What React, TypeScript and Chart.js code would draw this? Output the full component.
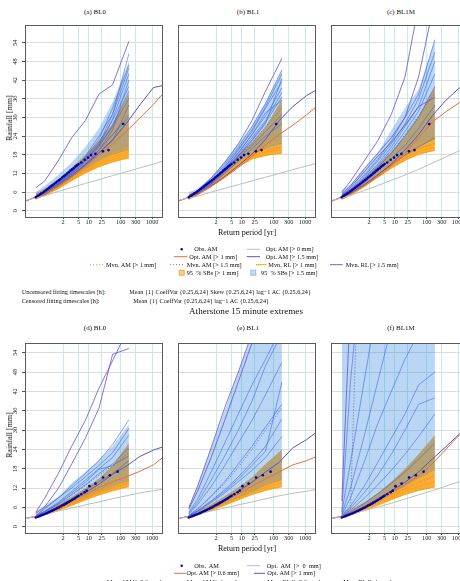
import React, { useEffect, useRef } from "react";
import { Chart, registerables } from "chart.js";

Chart.register(...registerables);

const FONT = "'Liberation Serif', 'Times New Roman', serif";

// ---------- axes ----------
const tickPeriods = [2, 5, 10, 25, 100, 300, 1000];
const rainTicks = [0, 6, 12, 18, 24, 30, 36, 42, 48, 54];
// x values are Gumbel reduced variates  -ln(-ln(1 - 1/T))
const simX = [-1.64, -1, 0, 1, 2, 3, 4, 5.2];
const optX = [-2.36, -1, 0, 1, 2, 3, 4, 5, 6, 7, 7.63];
const xRange = [-2.36, 7.63];
const row1Range = [-2.0, 59.4];
const row2Range = [-1.93, 56.7];

// ---------- observed annual maxima ----------
const obsRow1X = [-1.64, -1.5, -1.38, -1.26, -1.14, -1.02, -0.9, -0.78, -0.66, -0.54, -0.42, -0.3, -0.18, -0.06, 0.06, 0.18, 0.3, 0.42, 0.54, 0.66, 0.78, 0.9, 1.02, 1.14, 1.26, 1.38, 1.5, 1.7, 1.95, 2.2, 2.42, 2.74, 3.29, 3.7, 4.78];
const obsRow1Y = [4.4, 4.8, 5.1, 5.5, 5.8, 6.2, 6.6, 7.0, 7.4, 7.8, 8.2, 8.6, 9.0, 9.4, 9.8, 10.2, 10.7, 11.1, 11.5, 12.0, 12.4, 12.9, 13.3, 13.7, 14.2, 14.6, 15.0, 15.5, 16.4, 17.1, 17.9, 18.3, 19.1, 19.5, 27.9];
const obsRow2X = [-1.64, -1.5, -1.38, -1.26, -1.14, -1.02, -0.9, -0.78, -0.66, -0.54, -0.42, -0.3, -0.18, -0.06, 0.06, 0.18, 0.3, 0.42, 0.54, 0.66, 0.78, 0.9, 1.02, 1.14, 1.26, 1.38, 1.5, 1.7, 1.95, 2.1, 2.3, 2.75, 3.3, 3.8, 4.37];
const obsRow2Y = [2.9, 3.1, 3.3, 3.5, 3.7, 3.9, 4.1, 4.3, 4.6, 4.8, 5.0, 5.3, 5.5, 5.8, 6.0, 6.3, 6.6, 6.8, 7.1, 7.4, 7.7, 8.0, 8.3, 8.6, 8.9, 9.3, 9.6, 10.1, 10.7, 11.2, 12.6, 13.4, 15.3, 16.0, 17.1];

// ---------- panel (a) BL0 ----------
const aOpt0 = [3.4, 4.8, 6.2, 7.5, 8.8, 10.0, 11.3, 12.5, 13.8, 15.0, 15.9];
const aOpt1 = [3.2, 5.4, 8.0, 11.0, 14.3, 17.8, 21.5, 25.5, 29.8, 34.2, 37.3];
const aOpt2 = [3.2, 5.5, 8.2, 11.3, 14.8, 18.6, 22.8, 28.0, 34.0, 39.6, 40.2];
const aSB1lo = [3.8, 4.8, 7.0, 9.6, 12.0, 14.0, 15.5, 16.8];
const aSB1hi = [5.6, 7.2, 10.2, 13.8, 18.0, 22.5, 28.0, 38.0];
const aSB2lo = [4.0, 5.2, 7.8, 10.6, 13.5, 16.0, 18.0, 19.5];
const aSB2hi = [6.0, 8.0, 11.5, 15.5, 20.5, 26.5, 35.0, 48.0];
const aMvn1 = [4.0, 5.1, 7.5, 10.4, 13.5, 16.3, 18.8, 21.5];
const aMvn2 = [4.2, 5.5, 8.3, 11.6, 15.4, 19.5, 24.5, 31.0];
const aRL1 = [
  [3.8, 4.9, 7.1, 9.8, 12.3, 14.3, 15.8, 17.2],
  [4.0, 5.1, 7.5, 10.3, 13.1, 15.5, 17.4, 19.0],
  [3.9, 5.0, 7.3, 10.0, 12.8, 15.0, 16.5, 18.2],
  [3.9, 5.0, 7.4, 10.2, 13.3, 16.2, 18.5, 20.5],
];
const aRL2 = [
  [4.2, 5.6, 8.6, 12.2, 16.5, 21.5, 31.0, 50.5],
  [4.5, 5.9, 9.0, 12.6, 17.5, 24.0, 31.0, 46.0],
  [4.1, 5.3, 8.1, 11.3, 15.0, 19.5, 26.0, 42.0],
  [4.3, 5.5, 8.3, 11.7, 15.8, 20.5, 27.5, 38.5],
  [4.0, 5.2, 7.9, 10.9, 14.4, 18.5, 22.5, 34.0],
  [4.2, 5.4, 8.4, 11.9, 16.0, 21.0, 29.5, 44.0],
  [4.0, 5.3, 8.0, 11.0, 14.8, 19.5, 24.5, 30.0],
  [4.3, 5.7, 8.8, 12.5, 17.0, 23.0, 33.0, 47.0],
  [4.4, 5.8, 8.9, 12.4, 16.8, 22.0, 29.0, 40.0],
  [4.2, 5.6, 8.5, 12.0, 16.2, 21.0, 27.0, 36.0],
];
const aRL2out = [[7.4, 9.5, 16.0, 23.5, 29.0, 37.5, 40.5, 54.5]];

// ---------- panel (b) BL1 ----------
const bOpt0 = [3.4, 4.7, 6.0, 7.2, 8.4, 9.6, 10.8, 12.0, 13.2, 14.4, 15.1];
const bOpt1 = [3.2, 5.3, 7.8, 10.7, 13.9, 17.5, 21.2, 24.5, 27.5, 30.8, 33.1];
const bOpt2 = [3.2, 5.4, 8.0, 11.0, 14.5, 18.2, 23.0, 29.0, 33.5, 37.0, 38.6];
const bSB1lo = [3.6, 5.0, 7.6, 10.8, 14.0, 16.5, 17.6, 18.3];
const bSB1hi = [5.2, 6.6, 9.8, 13.6, 18.0, 22.0, 27.0, 35.8];
const bSB2lo = [3.9, 5.4, 8.3, 11.6, 15.0, 18.0, 20.0, 21.5];
const bSB2hi = [6.0, 7.1, 10.8, 16.0, 21.4, 27.5, 35.0, 45.3];
const bMvn1 = [3.8, 5.2, 8.0, 11.3, 14.7, 17.5, 19.2, 20.5];
const bMvn2 = [4.0, 5.6, 8.7, 12.6, 17.0, 21.8, 27.0, 33.0];
const bRL1 = [
  [3.7, 5.1, 7.8, 11.0, 14.3, 16.8, 17.9, 18.6],
  [3.9, 5.4, 8.3, 11.8, 15.3, 18.3, 19.8, 20.5],
  [3.8, 5.2, 8.0, 11.4, 14.8, 17.5, 18.8, 19.5],
  [3.9, 5.3, 8.2, 11.7, 15.4, 18.8, 21.0, 22.5],
];
const bRL2 = [
  [4.3, 6.4, 10.0, 14.8, 20.5, 27.0, 34.5, 45.3],
  [4.1, 6.0, 9.5, 14.0, 19.5, 25.5, 33.0, 41.5],
  [4.0, 5.8, 9.0, 13.2, 18.0, 23.5, 29.0, 38.0],
  [4.2, 5.9, 9.2, 13.5, 18.5, 24.5, 31.5, 35.5],
  [4.0, 5.6, 8.6, 12.5, 16.8, 21.0, 25.5, 31.0],
  [4.1, 5.7, 8.8, 12.9, 17.5, 22.5, 28.0, 42.5],
  [3.9, 5.4, 8.4, 12.0, 16.0, 20.0, 24.0, 28.0],
  [4.2, 6.1, 9.6, 14.2, 19.8, 26.0, 33.5, 44.0],
  [4.1, 5.9, 9.3, 13.6, 18.8, 24.5, 30.5, 39.5],
  [4.0, 5.7, 8.9, 13.0, 17.6, 22.8, 28.5, 36.5],
];
const bRL2out = [[4.5, 6.5, 10.5, 15.5, 21.5, 29.0, 38.5, 49.0]];

// ---------- panel (c) BL1M ----------
const cOpt0 = [3.3, 4.9, 6.5, 8.1, 9.8, 11.5, 13.3, 15.3, 17.3, 19.3, 20.8];
const cOpt1 = [3.1, 5.4, 8.0, 11.0, 14.5, 18.5, 23.5, 28.5, 31.8, 34.8, 38.0];
const cOpt2 = [3.2, 5.6, 8.3, 11.5, 15.0, 19.5, 24.5, 30.5, 35.5, 39.5, 42.0];
const cSB1lo = [3.6, 4.9, 7.6, 10.6, 13.5, 16.0, 18.0, 19.3];
const cSB1hi = [5.4, 7.0, 10.5, 14.5, 19.0, 24.0, 30.5, 40.0];
const cSB2lo = [3.9, 5.4, 8.2, 11.4, 14.7, 17.8, 20.6, 23.0];
const cSB2hi = [6.5, 8.5, 13.5, 18.5, 26.0, 33.0, 39.0, 55.0];
const cMvn1 = [3.8, 5.1, 8.0, 11.2, 14.4, 17.3, 19.8, 21.5];
const cMvn2 = [4.3, 6.0, 9.6, 13.8, 18.6, 24.5, 30.5, 38.0];
const cRL1 = [
  [3.7, 5.0, 7.8, 10.8, 13.8, 16.3, 18.3, 19.5],
  [3.9, 5.3, 8.3, 11.6, 14.9, 17.8, 20.0, 21.8],
  [3.8, 5.1, 8.0, 11.1, 14.2, 16.9, 19.0, 20.5],
  [3.9, 5.2, 8.2, 11.5, 15.0, 18.5, 21.5, 23.5],
];
const cRL2 = [
  [4.8, 7.0, 11.5, 16.5, 22.5, 30.0, 37.5, 55.0],
  [4.5, 6.5, 10.5, 15.0, 20.5, 27.0, 33.5, 48.0],
  [4.2, 6.0, 9.8, 14.0, 18.5, 24.0, 30.0, 40.0],
  [4.0, 5.6, 9.0, 12.8, 16.8, 21.0, 26.5, 34.0],
  [4.1, 5.5, 8.4, 11.5, 14.8, 17.8, 20.5, 23.5],
  [4.4, 6.3, 10.2, 14.5, 19.5, 25.5, 32.0, 44.0],
  [4.6, 6.8, 11.0, 16.0, 21.5, 28.0, 36.0, 51.0],
];
const cRL2out = [
  [6.0, 9.5, 16.0, 22.5, 31.0, 43.0, 66.0, 80.0],
  [5.5, 8.0, 13.5, 18.5, 23.5, 30.0, 43.0, 68.0],
  [5.0, 7.5, 12.5, 17.5, 22.0, 27.5, 33.5, 36.5],
];

// ---------- panel (d) BL0 ----------
const dOpt0 = [2.6, 3.7, 4.9, 5.8, 6.8, 7.7, 8.7, 9.6, 10.5, 11.2, 11.6];
const dOpt1 = [2.6, 3.8, 6.0, 8.2, 10.0, 12.2, 14.0, 15.5, 17.2, 19.2, 21.3];
const dOpt2 = [2.6, 3.9, 6.2, 8.5, 10.6, 13.2, 16.3, 18.8, 21.8, 23.8, 24.7];
const dSB1lo = [2.8, 3.6, 4.9, 6.5, 8.2, 9.7, 11.0, 12.3];
const dSB1hi = [3.8, 5.0, 7.0, 9.3, 12.0, 15.0, 19.0, 26.0];
const dSB2lo = [3.0, 3.9, 5.4, 7.2, 9.0, 10.8, 12.5, 14.0];
const dSB2hi = [4.8, 6.5, 9.2, 13.5, 17.0, 20.7, 25.0, 31.7];
const dMvn1 = [2.9, 3.8, 5.4, 7.1, 8.9, 10.7, 12.2, 13.6];
const dMvn2 = [3.1, 4.5, 7.0, 9.8, 12.8, 16.0, 19.0, 23.0];
const dRL1 = [
  [2.8, 3.7, 5.1, 6.7, 8.4, 10.0, 11.3, 12.6],
  [3.0, 4.0, 5.6, 7.4, 9.3, 11.2, 12.8, 14.3],
  [2.9, 3.8, 5.3, 7.0, 8.8, 10.5, 12.0, 13.4],
  [3.0, 4.1, 5.8, 7.8, 9.9, 12.0, 14.0, 16.0],
];
const dRL2 = [
  [3.3, 5.5, 8.8, 12.8, 16.5, 20.5, 25.5, 33.2],
  [3.2, 4.8, 7.6, 11.0, 14.5, 18.0, 21.5, 28.5],
  [3.1, 4.5, 7.0, 10.0, 13.0, 16.5, 19.5, 24.5],
  [3.0, 4.2, 6.3, 8.7, 11.3, 14.0, 16.5, 20.5],
  [3.2, 4.7, 7.3, 10.5, 13.8, 17.8, 19.0, 22.0],
  [3.4, 5.8, 9.0, 12.0, 15.5, 19.0, 23.0, 30.5],
];
const dRL2out = [
  [4.5, 8.8, 16.4, 25.0, 33.0, 43.0, 51.5, 62.0],
  [4.2, 6.1, 11.8, 19.5, 27.5, 36.8, 53.5, 55.3],
];

// ---------- panel (e) BL1 ----------
const eOpt0 = [2.6, 3.7, 4.9, 5.8, 6.8, 7.7, 8.7, 9.6, 10.4, 11.0, 11.5];
const eOpt1 = [2.6, 3.8, 6.0, 8.2, 10.2, 12.6, 14.8, 17.0, 19.2, 20.5, 21.6];
const eOpt2 = [2.6, 3.9, 6.2, 8.6, 11.0, 13.8, 17.0, 20.0, 24.5, 27.0, 29.0];
const eSB1lo = [2.8, 3.6, 5.0, 6.6, 8.3, 9.9, 11.2, 12.3];
const eSB1hi = [3.6, 4.9, 7.0, 9.5, 12.3, 15.4, 19.5, 24.0];
const eSB2lo = [3.0, 3.9, 5.4, 7.2, 9.0, 10.8, 12.8, 14.5];
const eSB2hi = [6.0, 12.6, 24.4, 36.2, 47.8, 59.5, 71.0, 85.0];
const eMvn1 = [2.9, 3.8, 5.5, 7.3, 9.2, 11.2, 13.0, 14.8];
const eMvn2 = [3.5, 5.5, 9.2, 13.5, 18.5, 24.0, 30.0, 37.0];
const eRL1 = [
  [2.8, 3.7, 5.1, 6.7, 8.4, 10.0, 11.3, 12.5],
  [3.0, 4.0, 5.7, 7.6, 9.6, 11.6, 13.3, 15.0],
  [2.9, 3.8, 5.4, 7.1, 8.9, 10.7, 12.2, 13.6],
  [3.0, 4.1, 5.9, 8.0, 10.2, 12.5, 14.8, 17.5],
];
const eRL2 = [
  [4.5, 8.5, 17.0, 26.0, 35.0, 44.0, 52.0, 62.0],
  [4.0, 6.8, 12.5, 19.0, 26.0, 33.0, 41.0, 51.0],
  [3.6, 5.5, 9.5, 14.0, 19.5, 25.0, 31.0, 38.0],
  [3.3, 4.7, 7.5, 10.5, 14.0, 17.5, 21.5, 28.0],
  [3.5, 5.0, 8.0, 11.5, 15.5, 20.0, 25.0, 33.5],
  [4.2, 7.5, 14.5, 22.0, 30.0, 39.0, 50.0, 60.0],
  [3.4, 4.9, 7.8, 11.0, 14.8, 19.0, 23.5, 45.0],
];
const eRL2out = [
  [6.0, 12.5, 24.5, 37.0, 48.0, 60.0, 70.0, 80.0],
  [5.5, 11.0, 21.5, 33.0, 45.0, 57.0, 68.0, 78.0],
];

// ---------- panel (f) BL1M ----------
const fOpt0 = [2.6, 3.8, 5.0, 6.1, 7.3, 8.6, 9.9, 11.2, 12.6, 14.0, 14.8];
const fOpt1 = [2.6, 3.9, 6.1, 8.5, 10.8, 13.0, 15.8, 19.5, 24.0, 28.5, 31.0];
const fOpt2 = [2.6, 3.9, 6.2, 8.7, 11.2, 13.8, 17.0, 21.0, 24.8, 28.8, 31.5];
const fSB1lo = [2.8, 3.6, 5.0, 6.6, 8.3, 9.9, 11.2, 12.3];
const fSB1hi = [3.8, 5.2, 7.5, 10.5, 14.0, 18.0, 22.5, 28.5];
const fSB2lo = [3.0, 4.0, 5.8, 7.8, 10.0, 12.5, 15.0, 17.5];
const fSB2hi = [62.0, 110.0, 140.0, 160.0, 180.0, 200.0, 220.0, 240.0];
const fMvn1 = [2.9, 3.9, 5.6, 7.5, 9.5, 11.6, 13.6, 15.6];
const fMvn2 = [4.5, 5.5, 140.0, 160.0, 180.0, 200.0, 220.0, 240.0];
const fRL1 = [
  [2.8, 3.7, 5.1, 6.7, 8.4, 10.0, 11.3, 12.4],
  [3.0, 4.0, 5.8, 7.8, 9.9, 12.0, 14.0, 16.0],
  [2.9, 3.8, 5.4, 7.2, 9.0, 10.9, 12.5, 14.0],
  [3.0, 4.1, 6.0, 8.2, 10.5, 13.0, 15.5, 18.5],
];
const fRL2 = [
  [5.0, 45.0, 90.0, 120.0, 150.0, 170.0, 190.0, 210.0],
  [4.5, 20.0, 45.0, 70.0, 90.0, 110.0, 130.0, 150.0],
  [4.0, 12.0, 28.0, 45.0, 62.0, 75.0, 85.0, 95.0],
  [3.6, 9.0, 20.0, 32.0, 42.0, 52.0, 60.0, 68.0],
  [3.4, 6.5, 12.5, 20.0, 27.5, 35.0, 44.0, 48.0],
  [3.2, 5.2, 8.8, 13.0, 17.5, 22.5, 28.0, 35.0],
  [3.1, 4.6, 7.2, 10.2, 13.5, 17.0, 21.0, 26.0],
  [3.3, 5.8, 10.5, 16.0, 22.5, 30.0, 38.0, 40.0],
];
const fRL2out = [[8.0, 70.0, 120.0, 150.0, 170.0, 190.0, 200.0, 210.0]];

// ---------- colours ----------
const C_OPT0 = "#bdbdbd";
const C_OPT1 = "#ef6a3c";
const C_OPT2 = "#5f52b8";
const C_RL1 = "rgba(255,160,0,0.9)";
const C_RL2 = "rgba(65,100,225,0.65)";
const C_OUT = "rgba(100,85,205,0.9)";
const C_MVN1 = "rgba(245,130,60,0.95)";
const C_MVN2 = "rgba(110,90,200,0.95)";
const C_SB1 = "rgba(248,160,25,0.85)";
const C_SB2 = "rgba(55,141,226,0.35)";
const C_OBS = "#0000a8";

type PanelData = {
  opt0: number[]; opt1: number[]; opt2: number[];
  sb1lo: number[]; sb1hi: number[]; sb2lo: number[]; sb2hi: number[];
  mvn1: number[]; mvn2: number[];
  rl1: number[][]; rl2: number[][]; rl2out: number[][];
  obsX: number[]; obsY: number[];
};

const xy = (xs: number[], ys: number[]) => xs.map((x, i) => ({ x, y: ys[i] }));
const gumbel = (T: number) => -Math.log(-Math.log(1 - 1 / T));

const lineDs = (data: any[], color: string, width: number, order: number, extra: any = {}) => ({
  data, borderColor: color, borderWidth: width, pointRadius: 0, fill: false, tension: 0, clip: 0, order, ...extra,
});

function buildDatasets(p: PanelData) {
  const ds: any[] = [];
  const clear = "rgba(0,0,0,0)";
  ds.push(lineDs(xy(simX, p.sb1lo), clear, 1, 100));
  ds.push(lineDs(xy(simX, p.sb1hi), clear, 1, 100, { fill: "-1", backgroundColor: C_SB1 }));
  ds.push(lineDs(xy(simX, p.sb2lo), clear, 1, 90));
  ds.push(lineDs(xy(simX, p.sb2hi), clear, 1, 90, { fill: "-1", backgroundColor: C_SB2 }));
  p.rl1.forEach((v) => ds.push(lineDs(xy(simX, v), C_RL1, 0.9, 60)));
  p.rl2.forEach((v) => ds.push(lineDs(xy(simX, v), C_RL2, 0.9, 55)));
  p.rl2out.forEach((v) => ds.push(lineDs(xy(simX, v), C_OUT, 0.9, 50)));
  ds.push(lineDs(xy(simX, p.mvn1), C_MVN1, 1, 45, { borderDash: [1, 2] }));
  ds.push(lineDs(xy(simX, p.mvn2), C_MVN2, 1, 45, { borderDash: [1, 2] }));
  ds.push(lineDs(xy(optX, p.opt0), C_OPT0, 1, 20));
  ds.push(lineDs(xy(optX, p.opt1), C_OPT1, 1, 20));
  ds.push(lineDs(xy(optX, p.opt2), C_OPT2, 1, 20));
  ds.push({
    data: xy(p.obsX, p.obsY), showLine: false, pointRadius: 1.3, pointBackgroundColor: C_OBS,
    pointBorderWidth: 0, borderColor: C_OBS, order: 1, clip: 0,
  });
  return ds;
}

const boxPlugin = {
  id: "panelBox",
  afterDraw(chart: any) {
    const { ctx, chartArea: a } = chart;
    ctx.save();
    ctx.strokeStyle = "#5a5a5a";
    ctx.lineWidth = 1;
    ctx.strokeRect(a.left - 0.5, a.top - 0.5, a.right - a.left + 1, a.bottom - a.top + 1);
    ctx.restore();
  },
};

const PLOT_W = 138;
const Y_AXIS_W = 26;
const X_AXIS_H = 14;

function Panel({ plotLeft, plotTop, plotH, yRange, showY, data }: {
  plotLeft: number; plotTop: number; plotH: number; yRange: number[]; showY: boolean; data: PanelData;
}) {
  const ref = useRef<HTMLCanvasElement>(null);
  const w = Y_AXIS_W + PLOT_W + 2;
  const h = 2 + plotH + X_AXIS_H;
  useEffect(() => {
    const tickFont = { family: FONT, size: 6.3 };
    const chart = new Chart(ref.current as HTMLCanvasElement, {
      type: "line",
      data: { datasets: buildDatasets(data) as any },
      options: {
        animation: false,
        responsive: false,
        devicePixelRatio: 1,
        events: [],
        layout: { padding: { left: 0, right: 2, top: 2, bottom: 0 } },
        plugins: { legend: { display: false }, tooltip: { enabled: false } },
        scales: {
          x: {
            type: "linear",
            min: xRange[0],
            max: xRange[1],
            afterBuildTicks: (s: any) => { s.ticks = tickPeriods.map((T) => ({ value: gumbel(T) })); },
            afterFit: (s: any) => { s.height = X_AXIS_H; s.paddingLeft = 0; s.paddingRight = 0; },
            ticks: {
              callback: (_v: any, i: number) => String(tickPeriods[i]),
              font: tickFont, color: "#222", padding: 0, maxRotation: 0, minRotation: 0, autoSkip: false,
            },
            grid: { color: "#c4ecea", lineWidth: 1, drawTicks: true, tickLength: 2, tickColor: "#555" },
            border: { display: false },
          },
          y: {
            type: "linear",
            min: yRange[0],
            max: yRange[1],
            afterBuildTicks: (s: any) => { s.ticks = rainTicks.map((v) => ({ value: v })); },
            afterFit: (s: any) => { s.width = Y_AXIS_W; s.paddingTop = 0; s.paddingBottom = 0; },
            ticks: {
              display: showY, minRotation: 90, maxRotation: 90, crossAlign: "center", padding: 4,
              font: tickFont, color: "#222",
            },
            grid: { color: "#dcdcdc", lineWidth: 1, drawTicks: showY, tickLength: 4, tickColor: "#555" },
            border: { display: false },
          },
        },
      } as any,
      plugins: [boxPlugin],
    });
    return () => chart.destroy();
  }, []);
  return (
    <canvas
      ref={ref}
      width={w}
      height={h}
      style={{ position: "absolute", left: plotLeft - Y_AXIS_W, top: plotTop - 2, width: w, height: h }}
    />
  );
}

function Txt({ x, y, size = 6.3, center = false, rotate = 0, children }: any) {
  return (
    <div
      style={{
        position: "absolute", left: x, top: y, fontFamily: FONT, fontSize: size, lineHeight: 1,
        whiteSpace: "pre", color: "#111",
        transform: `translate(${center ? "-50%" : "0"}, -50%)${rotate ? ` rotate(${rotate}deg)` : ""}`,
      }}
    >
      {children}
    </div>
  );
}

const panelA: PanelData = { opt0: aOpt0, opt1: aOpt1, opt2: aOpt2, sb1lo: aSB1lo, sb1hi: aSB1hi, sb2lo: aSB2lo, sb2hi: aSB2hi, mvn1: aMvn1, mvn2: aMvn2, rl1: aRL1, rl2: aRL2, rl2out: aRL2out, obsX: obsRow1X, obsY: obsRow1Y };
const panelB: PanelData = { opt0: bOpt0, opt1: bOpt1, opt2: bOpt2, sb1lo: bSB1lo, sb1hi: bSB1hi, sb2lo: bSB2lo, sb2hi: bSB2hi, mvn1: bMvn1, mvn2: bMvn2, rl1: bRL1, rl2: bRL2, rl2out: bRL2out, obsX: obsRow1X, obsY: obsRow1Y };
const panelC: PanelData = { opt0: cOpt0, opt1: cOpt1, opt2: cOpt2, sb1lo: cSB1lo, sb1hi: cSB1hi, sb2lo: cSB2lo, sb2hi: cSB2hi, mvn1: cMvn1, mvn2: cMvn2, rl1: cRL1, rl2: cRL2, rl2out: cRL2out, obsX: obsRow1X, obsY: obsRow1Y };
const panelD: PanelData = { opt0: dOpt0, opt1: dOpt1, opt2: dOpt2, sb1lo: dSB1lo, sb1hi: dSB1hi, sb2lo: dSB2lo, sb2hi: dSB2hi, mvn1: dMvn1, mvn2: dMvn2, rl1: dRL1, rl2: dRL2, rl2out: dRL2out, obsX: obsRow2X, obsY: obsRow2Y };
const panelE: PanelData = { opt0: eOpt0, opt1: eOpt1, opt2: eOpt2, sb1lo: eSB1lo, sb1hi: eSB1hi, sb2lo: eSB2lo, sb2hi: eSB2hi, mvn1: eMvn1, mvn2: eMvn2, rl1: eRL1, rl2: eRL2, rl2out: eRL2out, obsX: obsRow2X, obsY: obsRow2Y };
const panelF: PanelData = { opt0: fOpt0, opt1: fOpt1, opt2: fOpt2, sb1lo: fSB1lo, sb1hi: fSB1hi, sb2lo: fSB2lo, sb2hi: fSB2hi, mvn1: fMvn1, mvn2: fMvn2, rl1: fRL1, rl2: fRL2, rl2out: fRL2out, obsX: obsRow2X, obsY: obsRow2Y };

const panelLefts = [26, 179, 332];
const row1Titles = ["(a) BL0", "(b) BL1", "(c) BL1M"];
const row2Titles = ["(d) BL0", "(e) BL1", "(f) BL1M"];

function LegendSymbols() {
  const L = (x1: number, x2: number, y: number, c: string, dash?: string) => (
    <line x1={x1} x2={x2} y1={y} y2={y} stroke={c} strokeWidth={1} strokeDasharray={dash} />
  );
  return (
    <svg width={460} height={581} style={{ position: "absolute", left: 0, top: 0 }}>
      <circle cx={181.7} cy={249.3} r={1.2} fill={C_OBS} />
      {L(246.7, 260, 249.3, C_OPT0)}
      {L(174, 187.3, 256.7, C_OPT1)}
      {L(246.7, 260, 256.7, C_OPT2)}
      {L(90, 103.3, 264.7, C_MVN1, "1 2")}
      {L(170, 183.3, 264.7, C_MVN2, "1 2")}
      {L(256, 266.7, 264.7, "#ffa500")}
      {L(330, 342.7, 264.7, "#5a6ad8")}
      <rect x={179.2} y={270.2} width={5} height={5} fill="#fbc98a" stroke="#f0a030" strokeWidth={0.8} />
      <rect x={250.8} y={270.2} width={5} height={5} fill="#bcdcf8" stroke="#8cb4e0" strokeWidth={0.8} />

      <circle cx={181.7} cy={565.7} r={1.2} fill={C_OBS} />
      {L(246.7, 260, 565.7, C_OPT0)}
      {L(174, 186, 573.3, C_OPT1)}
      {L(254, 265, 573.3, C_OPT2)}
      {L(90, 103.3, 581.5, C_MVN1, "1 2")}
      {L(170, 183.3, 581.5, C_MVN2, "1 2")}
      {L(255, 265, 581.5, "#ffa500")}
      {L(330, 341, 581.5, "#5a6ad8")}
    </svg>
  );
}

export default function App() {
  return (
    <div style={{ position: "absolute", left: 0, top: 0, width: 460, height: 581, overflow: "hidden", background: "#fff" }}>
      {row1Titles.map((t, i) => (
        <Txt key={t} x={panelLefts[i] + PLOT_W / 2} y={11.7} size={7} center>{t}</Txt>
      ))}
      <Panel plotLeft={26} plotTop={24} plotH={193} yRange={row1Range} showY data={panelA} />
      <Panel plotLeft={179} plotTop={24} plotH={193} yRange={row1Range} showY={false} data={panelB} />
      <Panel plotLeft={332} plotTop={24} plotH={193} yRange={row1Range} showY={false} data={panelC} />
      <Txt x={10} y={117.5} size={8} center rotate={-90}>Rainfall [mm]</Txt>
      <Txt x={247} y={232.5} size={8} center>Return period [yr]</Txt>

      <Txt x={194.3} y={249.3}>Obs. AM</Txt>
      <Txt x={265.7} y={249.3}>Opt. AM [&gt; 0 mm]</Txt>
      <Txt x={189.3} y={256.7}>Opt. AM [&gt; 1 mm]</Txt>
      <Txt x={265.7} y={256.7}>Opt. AM [&gt; 1.5 mm]</Txt>
      <Txt x={106} y={264.7}>Mvn. AM [&gt; 1 mm]</Txt>
      <Txt x={186.7} y={264.7}>Mvn. AM [&gt; 1.5 mm]</Txt>
      <Txt x={268.3} y={264.7}>Mvn. RL [&gt; 1 mm]</Txt>
      <Txt x={345.7} y={264.7}>Mvn. RL [&gt; 1.5 mm]</Txt>
      <Txt x={186.7} y={272.7}>{"95  % SBs [> 1 mm]"}</Txt>
      <Txt x={261} y={272.7}>{"95  % SBs [> 1.5 mm]"}</Txt>

      <Txt x={21.7} y={292} size={6.2}>Uncensored fitting timescales [h]:</Txt>
      <Txt x={129.3} y={292} size={6.2}>{"Mean {1} CoeffVar {0.25,6,24} Skew {0.25,6,24} lag\u22121 AC {0.25,6,24}"}</Txt>
      <Txt x={21.7} y={301} size={6.2}>Censored fitting timescales [h]:</Txt>
      <Txt x={133.3} y={301} size={6.2}>{"Mean {1} CoeffVar {0.25,6,24} lag\u22121 AC {0.25,6,24}"}</Txt>
      <Txt x={246} y={312} size={9.1} center>Atherstone 15 minute extremes</Txt>

      {row2Titles.map((t, i) => (
        <Txt key={t} x={panelLefts[i] + PLOT_W / 2} y={328} size={7} center>{t}</Txt>
      ))}
      <Panel plotLeft={26} plotTop={342} plotH={191} yRange={row2Range} showY data={panelD} />
      <Panel plotLeft={179} plotTop={342} plotH={191} yRange={row2Range} showY={false} data={panelE} />
      <Panel plotLeft={332} plotTop={342} plotH={191} yRange={row2Range} showY={false} data={panelF} />
      <Txt x={10} y={434.5} size={8} center rotate={-90}>Rainfall [mm]</Txt>
      <Txt x={247} y={548.7} size={8} center>Return period [yr]</Txt>

      <Txt x={194.3} y={565.7}>{"Obs.  AM"}</Txt>
      <Txt x={266.7} y={565.7}>{"Opt.  AM  [>  0  mm]"}</Txt>
      <Txt x={186.5} y={573.3}>Opt. AM [&gt; 0.6 mm]</Txt>
      <Txt x={267.3} y={573.3}>Opt. AM [&gt; 1 mm]</Txt>
      <Txt x={106.7} y={581.5}>Mvn. AM [&gt; 0.6 mm]</Txt>
      <Txt x={186.7} y={581.5}>Mvn. AM [&gt; 1 mm]</Txt>
      <Txt x={267.3} y={581.5}>Mvn. RL [&gt; 0.6 mm]</Txt>
      <Txt x={343.3} y={581.5}>Mvn. RL [&gt; 1 mm]</Txt>

      <LegendSymbols />
    </div>
  );
}
